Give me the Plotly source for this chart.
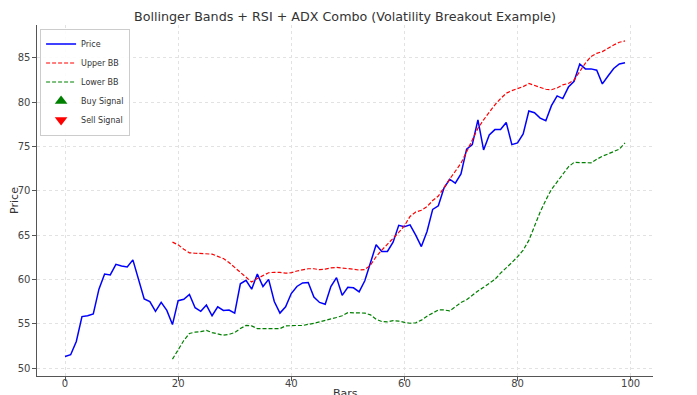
import plotly.graph_objects as go

price = [51.3, 51.5, 53.0, 55.8, 55.9, 56.1, 58.9, 60.6, 60.5, 61.7,
         61.5, 61.4, 62.2, 59.9, 57.8, 57.5, 56.4, 57.4, 56.5, 54.9,
         57.6, 57.75, 58.3, 56.8, 56.4, 57.1, 55.9, 56.9, 56.5, 56.55,
         56.2, 59.5, 59.9, 58.9, 60.6, 59.2, 60.0, 57.5, 56.2, 56.9,
         58.4, 59.2, 59.6, 59.65, 58.0, 57.4, 57.2, 59.2, 60.2, 58.2,
         59.1, 59.05, 58.6, 59.85, 61.9, 63.9, 63.15, 63.15, 64.2, 66.1,
         65.95, 66.15, 65.0, 63.7, 65.4, 67.9, 68.3, 70.3, 71.3, 70.85,
         71.9, 74.7, 75.2, 78.0, 74.6, 76.3, 76.9, 76.9, 77.7, 75.2,
         75.4, 76.4, 79.0, 78.8, 78.2, 77.9, 79.6, 80.7, 80.4, 81.7,
         82.35, 84.3, 83.75, 83.75, 83.6, 82.05, 82.95, 83.8, 84.3, 84.45]

band_start = 19

upper_bb = [64.2, 63.9, 63.4, 63.0, 62.95, 62.9, 62.9, 62.85, 62.6, 62.35,
            61.9, 61.35, 60.9, 60.3, 59.7, 60.1, 60.4, 60.75, 60.8, 60.8,
            60.7, 60.75, 60.95, 61.1, 61.2, 61.2, 61.1, 61.15, 61.3, 61.35,
            61.3, 61.2, 61.15, 61.05, 61.1, 61.6, 62.55, 63.3, 63.95, 64.55,
            65.3, 66.05, 67.1, 67.6, 67.8, 68.2, 68.9, 69.4, 70.4, 71.3,
            72.2, 73.1, 74.4, 75.7, 77.05, 78.0, 78.9, 79.7, 80.4, 81.0,
            81.3, 81.55, 81.75, 82.1, 81.9, 81.7, 81.45, 81.4, 81.6, 81.95,
            82.1, 82.5, 83.45, 84.4, 85.15, 85.5, 85.7, 86.1, 86.45, 86.75,
            86.9]

lower_bb = [51.0, 52.0, 53.1, 53.9, 54.05, 54.1, 54.25, 54.0, 53.85, 53.7,
            53.8, 54.0, 54.45, 54.8, 54.75, 54.45, 54.45, 54.45, 54.45, 54.45,
            54.75, 54.8, 54.8, 54.8, 54.9, 55.05, 55.2, 55.4, 55.55, 55.7,
            55.9, 56.25, 56.25, 56.25, 56.2, 56.0, 55.5, 55.25, 55.2, 55.35,
            55.3, 55.15, 55.05, 55.1, 55.4, 55.85, 56.25, 56.55, 56.55, 56.45,
            56.9, 57.4, 57.7, 58.25, 58.7, 59.1, 59.55, 60.0, 60.7, 61.25,
            61.9, 62.55, 63.3, 64.4, 66.1, 67.6, 68.95, 70.15, 71.0, 71.9,
            72.7, 73.2, 73.2, 73.15, 73.15, 73.55, 73.9, 74.15, 74.4, 74.7,
            75.4]

x_ticks = [0, 20, 40, 60, 80, 100]
y_ticks = [50, 55, 60, 65, 70, 75, 80, 85]

bars = list(range(len(price)))
band_bars = bars[band_start:]

FONT = "DejaVu Sans"
FIG_H = 387
M_T, M_B = 17, 19
PLOT_H = FIG_H - M_T - M_B

fig = go.Figure()
fig.add_trace(go.Scatter(x=bars, y=price, mode="lines", name="Price",
                         line=dict(color="#0000ff", width=1.5)))
fig.add_trace(go.Scatter(x=band_bars, y=upper_bb, mode="lines", name="Upper BB",
                         line=dict(color="#ff0000", width=1.2, dash="4px,2px")))
fig.add_trace(go.Scatter(x=band_bars, y=lower_bb, mode="lines", name="Lower BB",
                         line=dict(color="#008000", width=1.2, dash="4px,2px")))
fig.add_trace(go.Scatter(x=[None], y=[None], mode="markers", name="Buy Signal",
                         marker=dict(symbol="triangle-up", color="#008000", size=11)))
fig.add_trace(go.Scatter(x=[None], y=[None], mode="markers", name="Sell Signal",
                         marker=dict(symbol="triangle-down", color="#ff0000", size=11)))

axis_common = dict(
    showgrid=True, gridcolor="#e2e2e2", griddash="dot", gridwidth=0.8,
    zeroline=False, showline=True, linecolor="#555555", linewidth=1.2,
    ticks="outside", ticklen=3.5, tickcolor="#555555", tickwidth=1,
    tickfont=dict(family=FONT, size=10, color="#444444"),
    mirror=False, automargin=False,
)

fig.update_xaxes(range=[-4.95, 103.95], tickvals=x_ticks, ticklabelstandoff=-6,
                 **axis_common)
fig.update_yaxes(range=[49.1, 88.7], tickvals=y_ticks,
                 title=dict(text="Price", font=dict(family=FONT, size=11, color="#333333"), standoff=6),
                 **axis_common)

# x-axis title placed just under the tick labels, at the bottom edge of the page
fig.add_annotation(text="Bars", xref="paper", yref="paper", x=0.5, y=-9 / PLOT_H,
                   xanchor="center", yanchor="top", showarrow=False,
                   font=dict(family=FONT, size=11, color="#333333"))

# the page body adds an 8px offset, so the figure is 8px smaller on each axis
fig.update_layout(
    width=689, height=FIG_H,
    margin=dict(l=29, r=44, t=M_T, b=M_B, autoexpand=False),
    paper_bgcolor="white", plot_bgcolor="white",
    title=dict(text="Bollinger Bands + RSI + ADX Combo (Volatility Breakout Example)",
               font=dict(family=FONT, size=12.7, color="#333333"),
               x=0.5, xref="paper", xanchor="center", y=1 - 9 / FIG_H, yanchor="middle"),
    legend=dict(x=0.005, y=0.99, xanchor="left", yanchor="top",
                bgcolor="rgba(255,255,255,0.9)", bordercolor="#cccccc", borderwidth=1,
                font=dict(family=FONT, size=8, color="#333333"),
                itemwidth=30, tracegroupgap=0),
    showlegend=True,
    font=dict(family=FONT),
)

fig.write_html("out.html")
